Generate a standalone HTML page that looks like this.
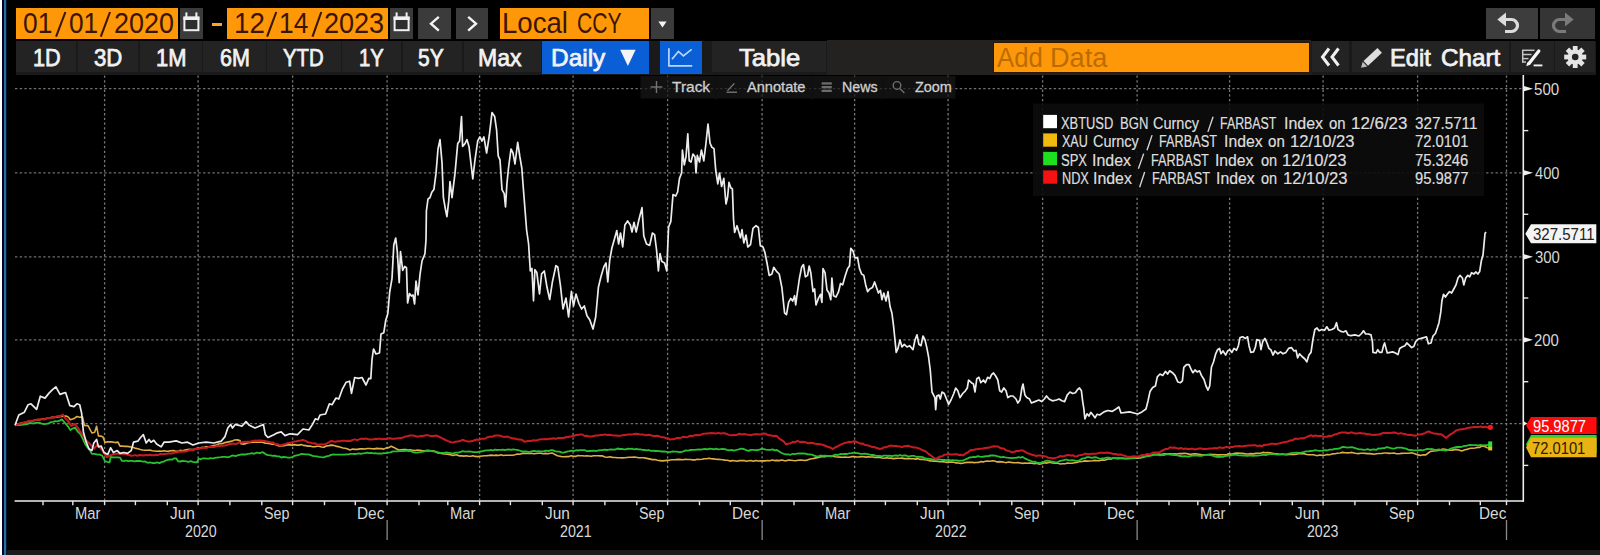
<!DOCTYPE html><html><head><meta charset="utf-8"><title>Chart</title><style>
*{margin:0;padding:0;box-sizing:border-box}
html,body{width:1600px;height:555px;background:#000;overflow:hidden}
body{position:relative;font-family:"Liberation Sans",sans-serif;color:#e6e6e6}
.a{position:absolute}
.box{position:absolute;top:8px;height:31px}
.or{background:#ff9808}
.gr{background:#3b3b3b}
.t{position:absolute;white-space:nowrap;line-height:1}
.r1{font-size:29.5px;color:#3a1500;top:8.1px}
.b2{position:absolute;top:40.9px;height:31.4px;background:#232323}
.r2{font-size:24px;color:#f2f2f2;top:45.9px;-webkit-text-stroke:0.75px #f2f2f2}
.mt{font-size:15px;color:#cfcfcf;top:78.9px;-webkit-text-stroke:0.3px #cfcfcf}
.lg{font-size:16px;color:#dedede;-webkit-text-stroke:0.2px #dedede}
.ax{font-size:16.3px;color:#d8d8d8}
</style></head><body>
<div class="a" style="left:0;top:0;width:1.9px;height:555px;background:#fdfdfd"></div>
<div class="a" style="left:1.9px;top:0;width:1.7px;height:555px;background:#01012c"></div>
<div class="a" style="left:3.5px;top:0;width:2.7px;height:555px;background:#2a6d9b"></div>
<div class="a" style="left:6.2px;top:0;width:1.1px;height:555px;background:#021a2c"></div>
<div class="a" style="left:7.4px;top:549.6px;width:1593px;height:6px;background:#1b1b1b"></div>
<div class="box or" style="left:15.5px;width:162.2px"></div>
<div class="box gr" style="left:180.1px;width:22.8px"></div>
<div class="a" style="left:212.2px;top:23.1px;width:9.7px;height:2.9px;background:#ffa21f"></div>
<div class="box or" style="left:226.7px;width:161.5px"></div>
<div class="box gr" style="left:390.3px;width:22.9px"></div>
<div class="box gr" style="left:418.2px;width:32.8px"></div>
<div class="box gr" style="left:456.2px;width:31.7px"></div>
<div class="box or" style="left:499.8px;width:149.4px"></div>
<div class="box gr" style="left:650.7px;width:23.4px"></div>
<div class="box" style="left:1486px;width:52.4px;background:#3d3d3d"></div>
<div class="box" style="left:1540.3px;width:55.1px;background:#353535"></div>
<div id="d1w0" class="t r1" style="left:23.39px;transform-origin:0 0;transform:scaleX(0.8931);">01</div><div id="d1w1" class="t r1" style="left:68.77px;transform-origin:0 0;transform:scaleX(0.8893);">01</div><div id="d1w2" class="t r1" style="left:114.14px;transform-origin:0 0;transform:scaleX(0.9124);">2020</div>
<div id="d2w0" class="t r1" style="left:234.17px;transform-origin:0 0;transform:scaleX(0.9378);">12</div><div id="d2w1" class="t r1" style="left:279.40px;transform-origin:0 0;transform:scaleX(0.8918);">14</div><div id="d2w2" class="t r1" style="left:324.37px;transform-origin:0 0;transform:scaleX(0.9166);">2023</div>
<div id="ccyw0" class="t r1" style="left:501.51px;transform-origin:0 0;transform:scaleX(0.9357);">Local</div><div id="ccyw1" class="t r1" style="left:577.38px;transform-origin:0 0;transform:scaleX(0.7169);">CCY</div>
<svg class="a" style="left:0;top:0" width="1600" height="80" viewBox="0 0 1600 80">
<g transform="translate(183.4,0)" fill="none" stroke="#f0f0f0"><rect x="1" y="17.6" width="14" height="12.6" stroke-width="2" fill="#2d2d2d"/><rect x="0" y="16.6" width="16" height="3.4" fill="#f0f0f0" stroke="none"/><line x1="3" y1="12.4" x2="3" y2="17" stroke-width="2"/><line x1="13" y1="12.4" x2="13" y2="17" stroke-width="2"/></g>
<g transform="translate(393.6,0)" fill="none" stroke="#f0f0f0"><rect x="1" y="17.6" width="14" height="12.6" stroke-width="2" fill="#2d2d2d"/><rect x="0" y="16.6" width="16" height="3.4" fill="#f0f0f0" stroke="none"/><line x1="3" y1="12.4" x2="3" y2="17" stroke-width="2"/><line x1="13" y1="12.4" x2="13" y2="17" stroke-width="2"/></g>
<line x1="56.1" y1="36.6" x2="65.39999999999999" y2="12" stroke="#3a1500" stroke-width="2.1"/>
<line x1="100.8" y1="36.6" x2="110.0" y2="12" stroke="#3a1500" stroke-width="2.1"/>
<line x1="267.09999999999997" y1="36.6" x2="276.3" y2="12" stroke="#3a1500" stroke-width="2.1"/>
<line x1="312.5" y1="36.6" x2="321.3" y2="12" stroke="#3a1500" stroke-width="2.1"/>
<polyline points="438.8,16.8 431,23.7 438.8,30.6" fill="none" stroke="#f4f4f4" stroke-width="2.4"/>
<polyline points="468.2,16.8 476,23.7 468.2,30.6" fill="none" stroke="#f4f4f4" stroke-width="2.4"/>
<polygon points="658.4,21.5 666.6,21.5 662.5,27.6" fill="#f4f4f4"/>
<g fill="none" stroke="#dcdcdc" stroke-width="3.2"><path d="M1504,19.5 H1511.5 a6,6 0 0 1 0,12 H1505"/></g><polygon points="1497.3,19.5 1506,12.6 1506,26.4" fill="#dcdcdc"/>
<g fill="none" stroke="#7a7a7a" stroke-width="3.2"><path d="M1567,19.5 H1559.5 a6,6 0 0 0 0,12 H1566"/></g><polygon points="1573.7,19.5 1565,12.6 1565,26.4" fill="#7a7a7a"/>
</svg>
<div class="a" style="left:15.5px;top:40.6px;width:1580px;height:34.2px;background:#1a1a1a"></div>
<div class="b2" style="left:16px;width:60.3px;"></div>
<div class="b2" style="left:77.6px;width:60.7px;"></div>
<div class="b2" style="left:139.6px;width:62.4px;"></div>
<div class="b2" style="left:203.3px;width:62.3px;"></div>
<div class="b2" style="left:267px;width:73.6px;"></div>
<div class="b2" style="left:342px;width:59.2px;"></div>
<div class="b2" style="left:402.5px;width:59.7px;"></div>
<div class="b2" style="left:463.5px;width:77.7px;"></div>
<div class="b2" style="left:541.9px;width:107.3px;background:#0a5fd6;top:40.6px;height:33.7px;"></div>
<div class="b2" style="left:659.8px;width:41.9px;background:#0a5fd6;top:40.6px;height:33.7px;"></div>
<div class="b2" style="left:711.8px;width:114.2px;"></div>
<div class="b2" style="left:827.2px;width:483.8px;background:#242221;top:40.4px;height:34.4px;"></div>
<div class="a" style="left:993.6px;top:42.7px;width:315.1px;height:29.5px;background:#ff9808;box-shadow:0 0 0 1px #2e1600"></div>
<div class="b2" style="left:1312px;width:36.6px;"></div>
<div class="b2" style="left:1352px;width:157.0px;"></div>
<div class="b2" style="left:1511px;width:42.6px;"></div>
<div class="b2" style="left:1555.3px;width:40.1px;"></div>
<div id="b1" class="t r2" style="left:32.52px;transform-origin:0 0;transform:scaleX(0.9035);">1D</div>
<div id="b2" class="t r2" style="left:94.02px;transform-origin:0 0;transform:scaleX(0.9238);">3D</div>
<div id="b3" class="t r2" style="left:156.26px;transform-origin:0 0;transform:scaleX(0.9140);">1M</div>
<div id="b4" class="t r2" style="left:219.67px;transform-origin:0 0;transform:scaleX(0.8965);">6M</div>
<div id="b5" class="t r2" style="left:283.46px;transform-origin:0 0;transform:scaleX(0.8465);">YTD</div>
<div id="b6" class="t r2" style="left:358.50px;transform-origin:0 0;transform:scaleX(0.8426);">1Y</div>
<div id="b7" class="t r2" style="left:418.21px;transform-origin:0 0;transform:scaleX(0.8749);">5Y</div>
<div id="b8" class="t r2" style="left:478.30px;transform-origin:0 0;transform:scaleX(0.9576);">Max</div>
<div id="b9" class="t r2" style="left:550.63px;transform-origin:0 0;transform:scaleX(1.0176);">Daily</div>
<div id="b10" class="t r2" style="left:738.77px;transform-origin:0 0;transform:scaleX(1.0663);">Table</div>
<div id="b11w0" class="t r2" style="left:1390.46px;transform-origin:0 0;transform:scaleX(0.9849);">Edit</div><div id="b11w1" class="t r2" style="left:1440.56px;transform-origin:0 0;transform:scaleX(1.0086);">Chart</div>
<div id="addw0" class="t r1" style="left:996.75px;transform-origin:0 0;transform:scaleX(0.9353);color:#bb6c00;top:44.2px;font-size:27.5px">Add</div><div id="addw1" class="t r1" style="left:1050.32px;transform-origin:0 0;transform:scaleX(0.9862);color:#bb6c00;top:44.2px;font-size:27.5px">Data</div>
<svg class="a" style="left:0;top:0" width="1600" height="80" viewBox="0 0 1600 80">
<polygon points="620.2,49.8 635.6,49.8 627.9,66" fill="#f4f4f4"/>
<g fill="none" stroke="#b9d6ff" stroke-width="1.7"><polyline points="668.9,48.2 668.9,65.9 692.2,65.9"/><polyline points="672,59.2 678.4,51.4 683.4,55.8 691.6,49.4"/></g>
<g fill="none" stroke="#f0f0f0" stroke-width="3"><polyline points="1329,48.5 1322.5,57 1329,65.5"/><polyline points="1338.5,48.5 1332,57 1338.5,65.5"/></g>
<g transform="translate(1372,57.5) rotate(-43)"><rect x="-8.5" y="-3.3" width="19" height="6.6" fill="#dedede"/><polygon points="-9.6,-3.3 -9.6,3.3 -15,0" fill="#bdbdbd"/></g>
<g fill="none" stroke="#c4c4c4" stroke-width="1.5"><line x1="1522" y1="50.3" x2="1534.5" y2="50.3"/><line x1="1522.7" y1="50" x2="1522.7" y2="62.5"/><line x1="1522" y1="54.5" x2="1531.5" y2="54.5"/><line x1="1522" y1="58.6" x2="1528.5" y2="58.6"/><line x1="1522" y1="62" x2="1526" y2="62"/></g><line x1="1533.6" y1="65.4" x2="1542.4" y2="65.4" stroke="#f0f0f0" stroke-width="1.9"/><line x1="1538.8" y1="51" x2="1529.4" y2="63" stroke="#f6f6f6" stroke-width="3.3" stroke-linecap="round"/><polygon points="1527.2,62.2 1530.6,64.6 1526.3,66.2" fill="#f6f6f6"/>
<g transform="translate(1575.2,57)" fill="#e4e4e4"><rect x="-2.4" y="-11" width="4.8" height="6" transform="rotate(0)"/><rect x="-2.4" y="-11" width="4.8" height="6" transform="rotate(45)"/><rect x="-2.4" y="-11" width="4.8" height="6" transform="rotate(90)"/><rect x="-2.4" y="-11" width="4.8" height="6" transform="rotate(135)"/><rect x="-2.4" y="-11" width="4.8" height="6" transform="rotate(180)"/><rect x="-2.4" y="-11" width="4.8" height="6" transform="rotate(225)"/><rect x="-2.4" y="-11" width="4.8" height="6" transform="rotate(270)"/><rect x="-2.4" y="-11" width="4.8" height="6" transform="rotate(315)"/><circle r="7.6"/><circle r="3.3" fill="#232323"/></g>
</svg>
<svg class="a" style="left:0;top:0" width="1600" height="555" viewBox="0 0 1600 555"><g stroke="#707070" stroke-width="1.2" stroke-dasharray="2.4 2.3" fill="none"><line x1="15" y1="88.7" x2="1523" y2="88.7"/><line x1="15" y1="172.8" x2="1523" y2="172.8"/><line x1="15" y1="256.8" x2="1523" y2="256.8"/><line x1="15" y1="339.8" x2="1523" y2="339.8"/><line x1="15" y1="423.6" x2="1523" y2="423.6"/></g><g stroke="#777777" stroke-width="1.3" stroke-dasharray="2.3 2.4" fill="none"><line x1="104.6" y1="75.5" x2="104.6" y2="500.5"/><line x1="198.1" y1="75.5" x2="198.1" y2="500.5"/><line x1="292.6" y1="75.5" x2="292.6" y2="500.5"/><line x1="387.1" y1="75.5" x2="387.1" y2="500.5"/><line x1="479.6" y1="75.5" x2="479.6" y2="500.5"/><line x1="573.1" y1="75.5" x2="573.1" y2="500.5"/><line x1="667.6" y1="75.5" x2="667.6" y2="500.5"/><line x1="762.1" y1="75.5" x2="762.1" y2="500.5"/><line x1="854.6" y1="75.5" x2="854.6" y2="500.5"/><line x1="948.1" y1="75.5" x2="948.1" y2="500.5"/><line x1="1042.6" y1="75.5" x2="1042.6" y2="500.5"/><line x1="1137.1" y1="75.5" x2="1137.1" y2="500.5"/><line x1="1229.6" y1="75.5" x2="1229.6" y2="500.5"/><line x1="1323.1" y1="75.5" x2="1323.1" y2="500.5"/><line x1="1417.6" y1="75.5" x2="1417.6" y2="500.5"/><line x1="1506.5" y1="75.5" x2="1506.5" y2="500.5"/></g><rect x="640.5" y="76" width="315" height="22.5" fill="#171717" opacity="0.72"/><line x1="715.6" y1="76" x2="715.6" y2="99.6" stroke="#101010" stroke-width="1.4"/><line x1="811.6" y1="76" x2="811.6" y2="99.6" stroke="#101010" stroke-width="1.4"/><line x1="882.6" y1="76" x2="882.6" y2="99.6" stroke="#101010" stroke-width="1.4"/><rect x="1033" y="103.5" width="451" height="92.5" fill="#0c0c0c" opacity="0.9"/><path d="M15.0,424.4 L17.2,423.7 L19.5,423.5 L21.8,422.9 L24.0,422.6 L26.2,422.2 L28.5,421.2 L30.8,420.7 L33.0,420.9 L35.2,420.0 L37.5,419.5 L39.9,419.8 L42.3,419.0 L44.7,419.0 L47.0,418.3 L49.4,418.1 L51.8,417.3 L54.2,417.4 L56.6,417.3 L59.0,416.6 L61.4,416.5 L63.8,416.1 L66.1,416.0 L68.4,417.1 L70.3,419.8 L74.0,418.6 L76.9,416.5 L79.7,417.2 L82.5,416.9 L84.4,425.5 L88.0,425.6 L91.9,433.0 L94.7,432.3 L96.6,426.2 L98.4,435.9 L100.7,436.1 L103.0,437.0 L105.0,442.5 L107.5,441.8 L110.0,441.9 L112.5,441.9 L115.2,442.6 L118.0,442.1 L120.0,446.1 L122.2,446.0 L124.5,446.4 L126.8,446.4 L129.0,446.6 L131.2,447.0 L133.5,447.5 L135.8,448.4 L138.0,448.7 L140.2,449.5 L142.5,450.0 L144.9,450.3 L147.3,450.2 L149.7,450.0 L152.2,450.8 L154.6,451.0 L157.0,451.2 L159.4,451.1 L161.7,451.2 L164.1,450.7 L166.4,451.3 L168.7,451.1 L171.0,450.8 L173.3,450.6 L175.7,451.3 L178.0,451.4 L180.4,450.3 L182.7,450.7 L185.1,450.1 L187.4,449.6 L189.8,449.4 L192.2,449.6 L194.5,449.4 L196.9,448.3 L199.2,448.4 L201.6,447.4 L203.9,447.5 L206.2,446.7 L208.6,446.7 L210.9,446.4 L213.3,445.5 L215.6,445.4 L217.9,444.3 L220.3,443.6 L222.7,443.6 L225.0,442.6 L227.3,442.1 L229.7,441.6 L232.1,441.1 L234.4,440.0 L237.2,439.9 L240.0,440.6 L241.0,443.8 L243.4,444.1 L245.8,443.6 L248.2,442.8 L250.6,442.5 L253.0,442.2 L255.4,442.3 L257.8,442.3 L260.1,442.3 L262.5,442.3 L264.8,443.1 L267.2,443.2 L269.5,443.6 L271.9,444.3 L274.2,444.3 L276.6,444.9 L278.9,446.0 L281.2,446.0 L284.2,445.7 L287.1,444.9 L290.0,444.9 L292.2,445.1 L294.5,444.6 L296.8,445.1 L299.0,445.1 L301.2,444.6 L303.5,445.4 L305.8,445.6 L308.0,446.1 L310.2,446.1 L312.5,446.7 L314.8,446.8 L317.0,446.2 L319.2,446.3 L321.5,447.0 L323.8,447.3 L326.2,446.0 L328.8,445.6 L331.2,445.1 L333.6,445.4 L335.9,446.1 L338.3,446.6 L340.6,447.2 L343.0,448.0 L345.3,448.3 L347.7,449.0 L350.0,449.9 L352.5,449.1 L355.0,449.4 L357.5,449.4 L360.0,448.9 L362.5,448.7 L365.0,449.0 L367.3,448.5 L369.7,448.5 L372.0,448.7 L374.4,448.9 L376.7,448.4 L379.1,448.6 L381.4,448.6 L383.8,449.1 L386.2,447.9 L388.8,447.6 L391.2,446.2 L393.8,447.4 L396.2,448.8 L398.8,450.0 L401.1,449.7 L403.4,449.6 L405.8,449.6 L408.1,450.0 L410.5,449.8 L412.8,450.4 L415.2,450.5 L417.5,450.0 L420.0,450.2 L422.5,450.8 L425.0,450.8 L427.5,451.0 L430.0,450.7 L432.5,450.7 L435.0,451.6 L437.5,452.9 L440.0,453.2 L442.5,453.6 L445.0,454.0 L447.5,454.3 L450.0,454.6 L452.5,455.4 L455.0,455.0 L457.2,454.9 L459.5,455.9 L461.8,455.9 L464.0,456.1 L466.2,455.7 L468.5,456.3 L470.8,456.3 L473.0,455.8 L475.2,456.4 L477.5,456.6 L479.8,456.3 L482.2,456.0 L484.5,455.7 L486.9,455.6 L489.2,455.4 L491.6,455.1 L493.9,455.5 L496.2,455.1 L498.6,455.5 L500.9,454.8 L503.3,455.5 L505.6,455.2 L508.0,455.3 L510.3,455.2 L512.7,455.2 L515.0,454.8 L517.4,454.0 L519.7,454.3 L522.0,453.4 L524.4,453.2 L526.7,453.5 L529.1,453.4 L531.4,453.3 L533.8,453.8 L536.1,453.5 L538.5,453.3 L540.8,453.2 L543.1,453.7 L545.5,453.4 L547.8,453.7 L550.2,453.3 L552.5,453.1 L555.0,454.5 L557.5,455.8 L560.0,456.3 L562.2,456.8 L564.4,456.8 L566.7,456.6 L568.9,456.6 L571.1,455.8 L573.3,456.2 L575.6,456.4 L577.8,455.6 L580.0,455.7 L582.2,455.7 L584.5,456.0 L586.8,455.9 L589.0,456.0 L591.2,456.3 L593.5,455.7 L595.8,455.7 L598.0,455.8 L600.2,455.9 L602.5,455.9 L605.0,457.0 L607.5,457.2 L610.0,456.8 L612.5,457.4 L615.0,457.5 L617.5,457.8 L619.8,457.8 L622.2,457.9 L624.5,457.8 L626.9,457.5 L629.2,457.2 L631.6,457.2 L633.9,457.0 L636.2,457.2 L638.6,457.7 L640.9,457.7 L643.3,457.7 L645.6,458.1 L648.0,458.6 L650.3,459.1 L652.7,459.6 L655.0,459.5 L657.5,460.3 L660.0,460.6 L662.5,460.9 L664.8,460.6 L667.0,460.4 L669.2,460.3 L671.5,459.8 L673.8,459.8 L676.1,459.6 L678.4,459.4 L680.8,459.6 L683.1,459.8 L685.5,459.2 L687.8,459.5 L690.2,459.5 L692.5,459.9 L694.8,459.9 L697.2,459.2 L699.5,459.5 L701.9,459.3 L704.2,458.7 L706.6,458.7 L708.9,458.3 L711.2,458.8 L713.5,458.9 L715.8,459.3 L718.0,459.4 L720.2,459.5 L722.5,459.8 L725.0,460.1 L727.5,460.2 L730.0,461.1 L732.3,460.6 L734.7,460.7 L737.0,461.2 L739.4,460.6 L741.7,460.6 L744.1,460.6 L746.4,461.3 L748.8,460.7 L751.1,460.5 L753.4,461.2 L755.8,460.4 L758.1,461.0 L760.5,460.8 L762.8,460.9 L765.2,460.9 L767.5,460.5 L769.8,460.7 L772.2,460.0 L774.5,460.6 L776.9,460.4 L779.2,460.6 L781.6,460.0 L783.9,460.6 L786.2,460.8 L788.6,460.0 L790.9,460.2 L793.3,460.5 L795.6,460.7 L798.0,460.2 L800.3,460.1 L802.7,460.2 L805.0,460.5 L807.2,460.1 L809.5,459.3 L811.8,458.8 L814.0,458.4 L816.2,457.9 L818.5,457.5 L820.8,456.8 L823.0,456.7 L825.2,456.7 L827.5,455.8 L830.0,456.3 L832.5,456.0 L835.0,456.7 L837.5,457.0 L840.0,457.1 L842.5,457.2 L844.8,457.1 L847.2,457.2 L849.5,457.3 L851.9,456.6 L854.2,456.5 L856.6,457.0 L858.9,457.0 L861.2,456.6 L863.6,456.7 L865.9,457.1 L868.3,456.7 L870.6,457.0 L873.0,457.0 L875.3,457.5 L877.7,457.4 L880.0,457.5 L882.2,458.0 L884.4,458.3 L886.7,457.8 L888.9,458.3 L891.1,458.1 L893.3,458.6 L895.6,458.4 L897.8,458.2 L900.0,458.2 L902.2,458.1 L904.4,458.6 L906.7,458.6 L908.9,458.4 L911.1,458.7 L913.3,458.7 L915.6,459.1 L917.8,458.6 L920.0,459.4 L922.2,459.3 L924.5,459.8 L926.8,460.0 L929.0,460.6 L931.2,461.0 L933.5,461.1 L935.8,461.1 L938.0,461.5 L940.2,461.8 L942.5,461.6 L944.8,462.0 L947.0,462.4 L949.2,462.1 L951.5,462.1 L953.8,462.3 L956.0,462.9 L958.2,463.0 L960.5,463.4 L962.8,463.2 L965.0,462.6 L967.2,462.4 L969.5,462.4 L971.8,462.2 L974.0,462.6 L976.3,462.5 L978.6,462.4 L980.9,461.6 L983.1,461.9 L985.4,461.2 L987.7,461.1 L990.0,461.2 L992.4,460.8 L994.7,461.0 L997.1,461.9 L999.4,461.6 L1001.8,461.9 L1004.1,462.3 L1006.5,462.6 L1008.8,462.0 L1011.1,462.4 L1013.4,462.6 L1015.8,462.7 L1018.1,462.6 L1020.4,463.0 L1022.7,463.4 L1025.0,463.0 L1027.3,463.3 L1029.6,463.0 L1032.0,463.3 L1034.3,463.7 L1036.6,463.3 L1038.9,464.1 L1041.6,463.8 L1044.3,462.7 L1047.0,463.1 L1049.7,462.3 L1052.4,463.0 L1055.1,463.3 L1057.8,463.3 L1060.5,464.0 L1062.8,463.7 L1065.2,463.7 L1067.5,463.0 L1069.8,463.2 L1072.1,463.2 L1074.5,462.8 L1076.8,462.4 L1079.5,461.6 L1082.2,461.5 L1084.9,460.9 L1087.4,461.1 L1089.9,461.0 L1092.5,460.8 L1095.0,460.4 L1097.5,460.7 L1100.0,460.6 L1102.2,459.9 L1104.5,460.2 L1106.8,459.6 L1109.0,458.8 L1111.2,459.1 L1113.5,458.1 L1115.8,458.2 L1118.0,458.6 L1120.2,458.5 L1122.5,458.4 L1124.8,458.5 L1127.0,458.4 L1129.2,458.1 L1131.5,457.9 L1133.8,457.7 L1136.0,458.2 L1138.2,458.1 L1140.5,457.8 L1142.8,457.5 L1145.0,456.6 L1147.2,456.0 L1149.5,455.6 L1151.8,455.5 L1154.0,454.2 L1156.3,454.5 L1158.6,454.1 L1160.9,454.5 L1163.1,454.0 L1165.4,453.9 L1167.7,453.8 L1170.0,453.8 L1172.4,454.0 L1174.7,453.7 L1177.1,454.1 L1179.4,453.5 L1181.8,453.6 L1184.1,453.4 L1186.5,453.5 L1188.9,454.1 L1191.3,454.2 L1193.7,453.8 L1196.1,453.9 L1198.4,454.2 L1200.8,454.6 L1203.2,454.7 L1205.6,454.7 L1208.0,454.7 L1210.3,454.3 L1212.6,454.6 L1214.9,454.5 L1217.1,454.9 L1219.4,454.9 L1221.7,454.7 L1224.0,454.8 L1226.2,454.9 L1228.4,453.8 L1230.6,454.1 L1232.8,453.8 L1235.0,453.4 L1237.3,453.0 L1239.6,453.3 L1241.9,453.4 L1244.1,453.6 L1246.4,454.0 L1248.7,453.9 L1251.0,453.6 L1253.4,453.9 L1255.7,453.4 L1258.1,453.3 L1260.5,453.2 L1262.9,452.4 L1265.2,452.8 L1267.6,452.5 L1270.1,452.8 L1272.6,453.3 L1275.0,453.6 L1277.5,453.8 L1280.0,454.5 L1282.3,454.1 L1284.7,454.5 L1287.1,454.6 L1289.4,454.4 L1291.8,454.4 L1294.1,454.5 L1296.5,454.3 L1298.8,453.4 L1301.2,453.8 L1303.5,453.4 L1306.6,454.5 L1308.8,454.8 L1311.0,454.8 L1313.2,454.7 L1315.4,455.2 L1317.6,455.6 L1319.9,455.0 L1322.3,455.4 L1324.7,455.2 L1327.0,454.6 L1329.6,454.7 L1332.3,453.9 L1334.9,453.7 L1337.5,453.2 L1340.1,453.0 L1342.7,452.4 L1345.0,452.8 L1347.3,452.9 L1349.7,452.8 L1352.0,452.4 L1355.2,453.3 L1358.4,453.6 L1360.6,453.3 L1362.9,453.3 L1365.1,453.4 L1367.3,453.6 L1369.5,453.6 L1371.8,453.9 L1374.0,454.2 L1376.5,453.8 L1379.0,453.5 L1381.6,453.5 L1384.1,453.0 L1386.6,453.0 L1389.1,453.4 L1391.6,453.2 L1394.0,453.1 L1396.5,453.8 L1399.0,453.8 L1401.5,453.4 L1404.1,453.2 L1406.6,453.3 L1409.2,453.2 L1411.7,452.8 L1414.8,453.7 L1417.9,454.9 L1420.5,455.4 L1423.2,454.7 L1425.8,454.9 L1428.2,453.0 L1430.5,451.4 L1433.6,451.0 L1436.7,450.8 L1439.8,449.9 L1443.0,449.0 L1446.2,449.6 L1449.3,450.2 L1452.4,450.1 L1455.5,449.4 L1458.7,449.9 L1461.8,450.9 L1464.9,449.8 L1468.0,449.1 L1470.4,448.2 L1472.8,448.3 L1475.1,448.0 L1477.5,447.4 L1479.8,447.4 L1482.0,445.9 L1484.7,446.6 L1487.3,447.8 L1490.0,448.3" fill="none" stroke="#dcae44" stroke-width="1.6" stroke-linejoin="round"/><path d="M15.0,425.3 L17.0,425.2 L19.1,425.0 L21.1,424.8 L23.2,424.7 L25.2,424.3 L27.3,424.2 L29.3,423.0 L31.4,423.2 L33.4,423.5 L35.5,422.9 L37.5,422.9 L39.7,422.7 L41.8,423.7 L44.0,424.1 L46.2,423.9 L48.5,423.3 L50.7,422.2 L53.0,421.8 L55.2,421.2 L57.4,421.3 L59.7,420.6 L61.9,419.4 L65.6,423.7 L67.9,426.3 L70.3,430.1 L72.7,428.6 L75.0,427.5 L77.8,431.7 L80.6,434.4 L82.9,439.1 L85.3,444.5 L87.5,447.5 L89.7,450.1 L91.9,453.9 L94.7,453.9 L97.5,454.6 L99.8,454.6 L102.2,455.7 L105.0,461.2 L107.3,461.9 L109.7,462.3 L110.6,457.0 L112.9,457.3 L115.3,457.3 L117.7,457.4 L120.0,457.6 L121.9,460.8 L124.0,461.1 L126.1,460.5 L128.1,461.2 L130.2,460.8 L132.3,460.8 L134.4,461.3 L136.4,461.0 L138.5,460.8 L140.6,461.0 L142.9,461.7 L145.3,461.5 L147.7,462.8 L150.0,462.3 L152.3,463.0 L154.7,463.1 L157.1,462.3 L159.4,463.1 L161.5,462.1 L163.6,461.7 L165.7,460.5 L167.8,459.9 L169.9,459.5 L172.0,459.7 L174.1,458.3 L176.2,458.3 L178.0,461.4 L180.1,461.5 L182.2,461.0 L184.3,461.2 L186.4,461.4 L188.5,461.8 L190.6,461.2 L192.7,461.9 L194.8,462.1 L196.9,462.3 L198.8,458.5 L200.8,459.3 L202.8,458.3 L204.8,458.4 L206.8,458.6 L208.8,458.7 L210.9,458.0 L212.9,458.5 L214.9,457.9 L216.9,457.6 L218.9,457.4 L221.0,457.2 L223.0,456.9 L225.0,456.8 L227.1,457.1 L229.2,457.1 L231.2,455.9 L233.3,455.5 L235.4,456.1 L237.5,455.4 L239.6,454.9 L241.7,454.4 L243.8,454.5 L245.8,454.5 L247.9,453.9 L250.0,453.7 L252.1,453.1 L254.2,453.8 L256.2,452.7 L258.3,452.9 L260.4,453.0 L262.5,452.1 L266.2,454.6 L268.4,455.2 L270.5,455.3 L272.7,455.9 L274.8,455.6 L277.0,456.3 L279.1,456.4 L281.2,457.5 L283.4,457.0 L285.6,457.2 L287.8,457.7 L290.0,457.6 L292.2,457.0 L294.5,455.9 L296.8,455.3 L299.0,454.9 L301.2,454.0 L303.5,454.1 L305.8,454.4 L308.0,454.4 L310.2,454.9 L312.5,455.8 L314.8,456.2 L317.0,456.4 L319.2,456.8 L321.5,457.1 L323.8,457.3 L326.2,456.4 L328.8,455.8 L331.2,454.8 L333.4,454.3 L335.5,454.7 L337.7,454.7 L339.8,454.6 L342.0,454.6 L344.1,454.7 L346.2,454.3 L348.3,454.4 L350.4,453.9 L352.5,453.9 L354.6,454.0 L356.7,453.8 L358.8,453.3 L360.8,453.8 L362.9,453.3 L365.0,453.1 L367.1,452.6 L369.2,453.1 L371.2,452.9 L373.3,453.3 L375.4,453.2 L377.5,453.6 L379.6,453.5 L381.7,453.7 L383.8,453.2 L386.0,453.1 L388.2,452.7 L390.5,452.3 L392.8,451.3 L395.0,451.3 L397.2,451.3 L399.5,451.0 L401.8,451.2 L404.0,451.1 L406.2,450.6 L408.5,451.0 L410.8,451.0 L413.0,452.1 L415.2,452.6 L417.5,452.5 L419.8,452.2 L422.0,451.8 L424.2,451.4 L426.5,450.4 L428.8,450.5 L431.0,450.8 L433.2,451.3 L435.5,451.5 L437.8,452.2 L440.0,452.8 L442.2,452.8 L444.3,453.0 L446.5,452.5 L448.7,452.8 L450.8,453.2 L453.0,453.6 L455.4,452.7 L457.8,452.7 L460.1,452.2 L462.5,451.1 L464.6,451.7 L466.8,451.6 L468.9,451.5 L471.1,451.7 L473.2,452.1 L475.4,452.1 L477.5,452.2 L479.9,451.5 L482.2,451.3 L484.5,450.7 L486.9,450.4 L488.9,450.3 L490.9,449.9 L492.9,450.5 L494.9,449.6 L496.9,450.0 L498.9,449.8 L500.9,449.9 L503.0,449.6 L505.0,450.2 L507.0,449.7 L509.0,449.4 L511.0,449.9 L513.0,449.3 L515.0,449.7 L517.2,449.9 L519.5,450.5 L521.8,451.3 L524.0,451.5 L526.2,451.5 L528.3,451.8 L530.3,451.6 L532.3,451.2 L534.3,450.9 L536.3,451.3 L538.4,451.2 L540.4,451.5 L542.4,451.5 L544.4,451.0 L546.4,450.7 L548.5,451.1 L550.5,450.2 L552.5,450.2 L554.9,451.1 L557.2,451.7 L559.5,451.7 L561.9,452.6 L563.9,452.6 L565.9,451.8 L567.9,451.5 L569.9,451.0 L572.0,450.7 L574.0,451.1 L576.0,450.2 L578.0,450.5 L580.0,450.1 L582.4,450.1 L584.7,450.1 L587.0,451.2 L589.4,451.0 L591.6,450.8 L593.8,450.6 L596.0,451.1 L598.1,450.5 L600.3,450.2 L602.5,450.2 L604.6,449.7 L606.8,450.0 L608.9,449.7 L611.1,449.3 L613.2,449.6 L615.4,449.5 L617.5,448.5 L619.6,449.0 L621.7,448.8 L623.8,449.4 L625.8,449.3 L627.9,448.7 L630.0,448.8 L632.1,448.7 L634.2,449.5 L636.2,448.8 L638.3,449.3 L640.4,449.4 L642.5,449.8 L644.6,450.0 L646.7,450.4 L648.8,450.0 L650.8,450.8 L652.9,450.6 L655.0,451.0 L657.1,451.0 L659.3,451.1 L661.4,451.5 L663.6,451.5 L665.7,451.6 L667.9,452.1 L670.0,452.1 L672.2,451.5 L674.5,451.6 L676.8,451.7 L679.0,452.1 L681.2,452.0 L683.5,451.3 L685.8,450.4 L688.0,450.7 L690.2,450.0 L692.5,449.8 L694.6,449.8 L696.8,449.6 L698.9,449.4 L701.1,449.7 L703.2,449.1 L705.4,449.0 L707.5,449.4 L709.6,448.7 L711.8,448.8 L713.9,449.3 L716.1,448.6 L718.2,449.3 L720.4,449.2 L722.5,448.9 L724.8,449.1 L727.0,449.9 L729.2,450.4 L731.5,449.9 L733.8,450.6 L736.2,450.0 L738.8,449.4 L741.2,448.6 L743.8,449.0 L746.2,450.1 L748.8,450.9 L750.9,449.9 L753.0,449.9 L755.2,450.2 L757.3,450.0 L759.5,449.6 L761.6,448.8 L763.8,449.2 L765.9,449.7 L768.1,449.9 L770.3,449.8 L772.5,449.4 L774.7,450.4 L776.9,450.0 L779.2,451.5 L781.6,453.0 L783.9,453.8 L786.2,454.4 L788.4,454.3 L790.5,454.8 L792.7,453.8 L794.8,454.1 L797.0,453.7 L799.1,453.3 L801.2,453.5 L803.4,453.3 L805.5,453.7 L807.7,454.4 L809.8,454.4 L812.0,454.7 L814.1,455.6 L816.2,456.1 L818.4,456.3 L820.5,455.5 L822.7,455.8 L824.8,455.7 L827.0,456.0 L829.1,455.9 L831.2,456.3 L833.5,455.4 L835.8,454.7 L838.0,455.0 L840.2,454.0 L842.5,454.1 L844.8,453.8 L847.0,454.0 L849.2,453.4 L851.5,453.2 L853.8,452.7 L855.9,453.2 L858.0,453.1 L860.2,453.8 L862.3,453.8 L864.5,453.6 L866.6,453.9 L868.8,454.3 L871.0,455.0 L873.2,454.8 L875.5,455.7 L877.8,456.0 L880.0,455.8 L882.0,456.3 L884.0,455.7 L886.0,455.6 L888.0,456.0 L890.0,455.6 L892.0,456.2 L894.0,455.7 L896.0,455.5 L898.0,455.9 L900.0,455.0 L902.0,455.8 L904.0,455.3 L906.0,455.5 L908.0,456.4 L910.0,456.2 L912.0,455.8 L914.0,455.8 L916.0,456.8 L918.0,456.6 L920.0,456.8 L922.7,457.1 L925.4,458.5 L927.4,458.6 L929.5,458.8 L931.5,459.2 L933.5,459.8 L935.7,459.5 L937.8,459.6 L940.0,459.3 L942.1,460.0 L944.3,459.8 L946.4,460.1 L948.6,459.9 L950.7,460.4 L952.9,460.2 L955.0,460.4 L957.0,460.5 L959.0,460.9 L961.0,460.7 L963.0,460.6 L965.1,459.5 L967.2,458.7 L969.3,457.5 L971.4,457.4 L973.5,456.9 L975.6,457.1 L977.8,456.2 L979.9,456.6 L982.0,456.9 L984.2,456.5 L986.4,456.1 L988.6,456.0 L990.8,455.5 L993.0,455.4 L995.0,455.7 L997.0,456.2 L999.0,456.6 L1001.0,457.4 L1003.2,456.9 L1005.4,457.3 L1007.5,457.6 L1009.7,457.8 L1011.9,458.2 L1014.1,457.9 L1016.2,457.8 L1018.4,457.1 L1020.5,457.7 L1022.7,456.9 L1024.7,458.4 L1026.8,459.2 L1028.8,460.2 L1030.8,461.0 L1032.8,461.9 L1034.8,461.6 L1036.9,462.7 L1038.9,462.8 L1040.9,462.7 L1043.0,462.2 L1045.0,461.2 L1047.0,460.7 L1049.0,460.9 L1051.0,461.4 L1053.0,461.6 L1055.0,462.3 L1057.2,462.3 L1059.4,461.2 L1061.6,460.6 L1063.8,460.2 L1066.0,459.5 L1068.2,460.2 L1070.3,460.4 L1072.5,460.1 L1074.6,460.5 L1076.8,461.2 L1078.8,460.6 L1080.8,459.4 L1082.9,458.4 L1084.9,458.1 L1087.1,457.1 L1089.2,457.2 L1091.4,457.9 L1093.5,457.5 L1095.7,457.1 L1097.8,458.0 L1100.0,458.9 L1102.2,458.3 L1104.5,458.1 L1106.8,457.7 L1109.0,457.6 L1111.2,458.3 L1113.5,457.8 L1115.8,458.4 L1118.0,457.8 L1120.2,458.1 L1122.5,458.2 L1124.8,458.7 L1127.0,458.6 L1129.2,458.5 L1131.5,458.3 L1133.8,458.0 L1136.0,457.4 L1138.2,457.1 L1140.5,457.8 L1142.8,456.6 L1145.0,456.5 L1147.2,456.1 L1149.5,455.8 L1151.8,455.0 L1154.0,454.8 L1156.0,454.6 L1158.0,454.9 L1160.0,455.3 L1162.0,454.9 L1164.0,455.1 L1166.0,454.4 L1168.0,454.2 L1170.0,454.6 L1172.1,454.8 L1174.1,455.1 L1176.2,455.2 L1178.2,455.7 L1180.3,456.0 L1182.4,456.4 L1184.4,456.1 L1186.5,456.4 L1188.7,456.7 L1190.8,455.9 L1193.0,455.7 L1195.1,455.7 L1197.2,455.3 L1199.4,455.9 L1201.5,455.8 L1203.7,455.1 L1205.8,454.8 L1208.0,454.6 L1210.2,455.2 L1212.4,455.5 L1214.6,456.3 L1216.8,456.9 L1219.0,457.0 L1221.0,456.6 L1223.0,456.9 L1225.0,456.0 L1227.0,455.8 L1229.0,455.6 L1231.0,455.4 L1233.0,454.9 L1235.0,454.9 L1237.0,454.9 L1239.0,455.4 L1241.0,455.3 L1243.0,455.7 L1245.0,455.6 L1247.0,455.8 L1249.0,455.7 L1251.0,455.6 L1253.1,455.9 L1255.2,455.6 L1257.2,455.7 L1259.3,455.4 L1261.4,455.2 L1263.4,454.6 L1265.5,455.0 L1267.6,454.5 L1269.7,454.2 L1271.7,454.1 L1273.8,454.2 L1275.9,454.3 L1277.9,454.7 L1280.0,454.3 L1282.3,453.9 L1284.7,454.5 L1287.1,454.2 L1289.4,453.5 L1291.8,453.2 L1294.1,452.9 L1296.5,452.7 L1298.8,452.9 L1301.1,452.7 L1303.4,452.1 L1305.7,451.4 L1308.0,451.3 L1310.4,451.0 L1312.8,450.8 L1315.2,450.2 L1317.6,450.6 L1319.9,450.8 L1322.3,450.7 L1324.7,450.1 L1327.0,450.5 L1329.6,449.6 L1332.3,449.6 L1334.9,448.8 L1337.5,448.8 L1340.1,448.1 L1342.7,446.9 L1345.0,447.1 L1347.3,447.7 L1349.7,447.3 L1352.0,447.2 L1354.4,447.8 L1356.8,448.6 L1359.1,449.3 L1361.5,449.4 L1363.6,449.9 L1365.7,449.6 L1367.8,449.2 L1369.8,450.0 L1371.9,449.7 L1374.0,449.4 L1376.1,449.9 L1378.2,448.5 L1380.3,448.6 L1382.4,448.1 L1384.5,448.1 L1386.6,447.2 L1388.7,447.5 L1390.8,448.1 L1392.9,448.6 L1394.9,448.4 L1397.0,447.7 L1399.0,447.6 L1401.4,447.6 L1403.8,448.2 L1406.1,448.6 L1408.5,449.9 L1410.8,450.0 L1413.2,450.3 L1415.6,450.3 L1417.9,450.4 L1420.2,449.9 L1422.6,450.3 L1425.0,449.7 L1427.3,448.9 L1429.7,449.1 L1432.0,449.0 L1434.3,449.6 L1436.7,449.8 L1439.0,449.4 L1441.3,450.2 L1443.7,450.0 L1446.0,450.7 L1448.1,450.0 L1450.3,448.8 L1452.4,448.1 L1454.8,447.4 L1457.1,446.8 L1459.5,447.0 L1461.8,446.8 L1463.9,446.0 L1465.9,445.8 L1468.0,445.3 L1470.1,444.9 L1472.2,445.1 L1474.3,445.1 L1476.4,445.1 L1478.5,445.3 L1480.6,444.9 L1482.9,445.4 L1485.3,445.2 L1487.7,445.2 L1490.0,444.9" fill="none" stroke="#26c030" stroke-width="1.8" stroke-linejoin="round"/><path d="M15.0,425.3 L17.2,424.5 L19.3,423.7 L21.5,423.6 L23.7,422.4 L25.8,422.3 L28.0,421.5 L30.1,420.8 L32.2,421.0 L34.3,420.1 L36.4,420.3 L38.5,419.5 L40.6,419.2 L42.7,419.3 L44.8,419.4 L46.9,418.3 L49.2,417.9 L51.4,417.8 L53.7,417.6 L56.0,416.7 L58.3,416.0 L60.5,416.1 L62.8,414.5 L65.2,418.2 L67.5,420.4 L71.2,425.9 L75.0,424.0 L77.8,427.9 L80.6,432.2 L82.9,435.3 L85.3,439.5 L87.7,441.9 L90.0,443.9 L93.8,448.8 L97.5,444.5 L99.8,447.3 L102.2,450.3 L104.6,454.1 L106.9,457.1 L109.7,455.6 L112.5,454.5 L115.0,454.0 L117.5,453.5 L120.0,453.7 L122.2,454.0 L124.5,453.9 L126.8,454.6 L129.0,454.9 L131.2,455.7 L133.3,455.6 L135.4,455.1 L137.5,455.8 L139.6,454.9 L141.7,455.2 L143.8,455.6 L145.8,454.9 L147.9,455.3 L150.0,454.8 L152.1,455.3 L154.2,455.2 L156.2,454.7 L158.3,454.9 L160.4,454.0 L162.5,454.2 L164.6,453.9 L166.7,453.7 L168.8,453.4 L170.8,453.5 L172.9,453.3 L175.0,452.4 L177.1,452.3 L179.2,451.4 L181.2,451.8 L183.3,451.4 L185.4,451.5 L187.5,451.0 L189.6,450.1 L191.7,449.9 L193.8,449.9 L195.8,448.8 L197.9,449.0 L200.0,448.4 L202.1,448.0 L204.2,447.6 L206.2,448.1 L208.3,447.1 L210.4,446.9 L212.5,446.7 L214.6,447.0 L216.7,445.8 L218.8,445.9 L220.8,445.7 L222.9,445.7 L225.0,445.4 L227.1,445.1 L229.2,444.1 L231.2,444.0 L233.3,443.6 L235.4,443.9 L237.5,443.6 L239.6,442.4 L241.7,442.2 L243.8,441.9 L245.8,441.7 L247.9,441.8 L250.0,441.7 L252.1,441.1 L254.2,440.6 L256.2,440.8 L258.3,440.6 L260.4,440.6 L262.5,440.8 L264.6,441.0 L266.7,441.4 L268.8,442.0 L270.8,442.6 L272.9,442.4 L275.0,443.9 L277.1,444.3 L279.2,444.9 L281.2,445.3 L283.4,444.4 L285.6,443.9 L287.8,443.1 L290.0,443.1 L292.2,442.1 L294.3,441.6 L296.5,441.3 L298.7,440.8 L300.8,440.6 L303.0,439.8 L305.9,441.1 L308.8,442.6 L310.9,442.8 L313.0,443.4 L315.2,443.3 L317.3,444.6 L319.5,444.6 L321.6,444.3 L323.8,444.7 L326.2,443.6 L328.8,442.4 L331.2,440.8 L333.4,441.6 L335.5,441.8 L337.7,441.2 L339.8,441.2 L342.0,440.8 L344.1,440.8 L346.2,441.1 L348.4,440.7 L350.5,441.0 L352.7,439.9 L354.8,439.4 L357.0,440.1 L359.1,439.4 L361.2,438.6 L363.3,439.0 L365.3,438.5 L367.4,439.0 L369.4,439.5 L371.5,439.4 L373.5,439.2 L375.6,438.7 L377.6,438.9 L379.7,438.6 L381.7,439.3 L383.8,439.0 L385.8,439.1 L387.9,438.5 L390.0,438.2 L392.1,438.7 L394.2,438.7 L396.2,438.4 L398.3,438.2 L400.4,438.0 L402.5,437.8 L405.0,436.6 L407.5,436.3 L410.0,435.4 L412.5,435.5 L415.0,436.0 L417.5,436.8 L420.0,436.1 L422.5,435.9 L425.0,435.5 L427.2,435.1 L429.5,435.7 L431.8,435.9 L434.0,436.0 L436.2,435.5 L438.6,436.5 L440.9,437.6 L443.3,438.8 L445.6,440.0 L448.1,441.1 L450.5,442.0 L453.0,442.6 L455.4,441.7 L457.8,441.4 L460.1,441.1 L462.5,439.8 L465.0,440.8 L467.5,441.4 L470.0,441.6 L472.2,441.1 L474.5,440.3 L476.8,439.5 L479.0,439.8 L481.2,438.8 L483.4,438.8 L485.6,438.4 L487.8,437.2 L490.0,436.6 L492.2,436.7 L494.4,435.8 L496.5,435.4 L498.7,435.6 L500.8,435.8 L503.0,436.8 L505.1,436.9 L507.3,436.4 L509.4,437.4 L511.5,438.1 L513.7,438.4 L515.8,438.7 L518.0,439.5 L520.1,439.6 L522.3,440.1 L524.4,441.8 L526.5,441.2 L528.7,440.9 L530.8,441.1 L533.0,440.3 L535.1,440.6 L537.3,440.3 L539.4,439.4 L541.4,439.3 L543.5,439.2 L545.5,439.0 L547.6,439.2 L549.6,438.6 L551.7,438.7 L553.7,438.2 L555.8,438.9 L557.8,438.1 L559.9,438.0 L561.9,438.0 L563.9,438.0 L565.9,437.1 L567.9,437.3 L569.9,436.5 L572.0,436.2 L574.0,435.8 L576.0,434.9 L578.0,435.0 L580.0,434.4 L582.4,434.6 L584.7,436.0 L587.0,435.8 L589.4,436.6 L591.6,436.5 L593.8,436.0 L596.0,435.5 L598.1,435.4 L600.3,435.1 L602.5,435.0 L604.6,434.4 L606.8,435.0 L608.9,434.8 L611.1,435.0 L613.2,435.6 L615.4,435.5 L617.5,435.7 L619.6,435.7 L621.7,435.6 L623.8,434.9 L625.8,434.9 L627.9,434.6 L630.0,434.4 L632.1,434.4 L634.2,433.9 L636.2,433.8 L638.3,433.9 L640.4,434.6 L642.5,434.6 L644.6,435.0 L646.7,435.3 L648.8,434.7 L650.8,435.3 L652.9,435.9 L655.0,436.0 L657.1,435.7 L659.3,436.3 L661.4,437.2 L663.6,437.3 L665.7,438.0 L667.9,438.4 L670.0,439.6 L672.2,439.3 L674.5,439.1 L676.8,437.9 L679.0,438.1 L681.2,437.7 L683.5,436.7 L685.8,437.2 L688.0,436.9 L690.2,435.7 L692.5,436.1 L694.6,435.2 L696.8,435.0 L698.9,435.2 L701.1,434.7 L703.2,433.7 L705.4,433.6 L707.5,433.4 L709.6,433.2 L711.8,433.1 L713.9,433.2 L716.1,433.6 L718.2,432.9 L720.4,433.5 L722.5,433.3 L724.8,433.3 L727.0,434.1 L729.2,434.9 L731.5,435.2 L733.8,435.1 L736.6,435.0 L739.4,433.7 L741.7,434.4 L744.1,433.9 L746.4,434.5 L748.8,434.7 L750.9,435.3 L753.0,434.6 L755.2,434.2 L757.3,434.3 L759.5,434.6 L761.6,434.3 L763.8,433.5 L765.9,433.8 L768.1,435.2 L770.3,435.3 L772.5,435.9 L774.7,435.7 L776.9,436.1 L779.2,438.7 L781.6,440.2 L783.9,441.7 L786.2,444.5 L788.5,443.6 L790.8,443.2 L793.0,441.9 L795.2,442.2 L797.5,440.8 L799.7,441.9 L801.9,441.8 L804.0,441.9 L806.2,442.5 L808.4,443.2 L810.6,442.7 L812.9,443.0 L815.1,443.8 L817.4,443.9 L819.6,444.2 L821.9,444.6 L824.1,445.3 L826.3,446.2 L828.6,447.0 L830.8,447.8 L833.0,449.0 L835.4,447.3 L837.8,446.4 L840.1,444.8 L842.5,443.8 L844.8,442.9 L847.0,442.6 L849.2,441.8 L851.5,442.1 L853.8,441.3 L856.0,441.6 L858.2,442.6 L860.5,443.7 L862.8,443.5 L865.0,445.0 L867.2,445.2 L869.5,445.9 L871.8,446.9 L874.0,447.0 L876.2,447.8 L880.0,449.0 L882.0,448.6 L884.0,447.3 L886.0,447.2 L888.0,446.4 L890.0,445.6 L892.0,445.7 L894.0,445.9 L896.0,445.9 L898.0,446.3 L900.0,446.5 L902.0,447.1 L904.0,446.3 L906.0,446.0 L908.0,445.7 L910.0,446.4 L912.0,447.0 L914.0,447.4 L916.0,447.6 L918.0,448.1 L920.0,448.8 L922.7,450.3 L925.4,451.2 L928.1,453.6 L930.8,455.4 L933.4,457.6 L936.0,458.9 L938.1,457.6 L940.1,456.4 L942.2,456.3 L944.3,454.7 L946.4,454.6 L948.6,454.1 L950.7,454.4 L952.9,454.4 L955.0,454.3 L957.0,454.3 L959.0,455.0 L961.0,454.8 L963.0,455.4 L965.3,453.7 L967.7,452.5 L970.0,450.5 L972.0,450.0 L974.0,449.8 L976.0,449.2 L978.0,449.1 L980.4,448.7 L982.8,448.6 L985.2,448.1 L987.6,447.8 L989.6,447.6 L991.7,446.7 L993.7,446.2 L995.7,446.5 L997.7,446.4 L999.8,447.7 L1001.8,448.4 L1003.8,448.5 L1005.8,450.1 L1007.8,450.9 L1009.9,451.4 L1011.9,452.3 L1014.1,452.0 L1016.4,450.9 L1018.6,451.0 L1020.7,450.5 L1022.7,450.4 L1025.3,451.8 L1028.0,453.4 L1030.0,453.8 L1032.0,454.8 L1034.0,455.2 L1036.0,455.9 L1038.1,455.6 L1040.2,455.6 L1042.2,455.9 L1044.3,456.3 L1046.3,456.5 L1048.3,457.8 L1050.4,458.0 L1052.4,458.5 L1054.4,458.1 L1056.5,457.6 L1058.5,457.0 L1060.5,456.0 L1062.5,456.4 L1064.5,456.0 L1066.6,455.3 L1068.6,454.9 L1070.6,455.5 L1072.7,455.2 L1074.8,456.4 L1076.8,456.2 L1078.8,455.4 L1080.8,454.9 L1082.9,454.7 L1084.9,453.5 L1087.1,454.1 L1089.2,454.3 L1091.4,453.8 L1093.5,453.7 L1095.7,453.8 L1097.8,453.3 L1100.0,452.7 L1102.2,452.8 L1104.5,453.0 L1106.8,452.6 L1109.0,452.9 L1111.2,453.3 L1113.5,454.1 L1115.8,454.0 L1118.0,454.8 L1120.2,454.6 L1122.5,455.1 L1124.8,455.8 L1127.0,456.7 L1129.2,456.7 L1131.3,456.7 L1133.5,456.3 L1135.6,456.5 L1137.8,456.5 L1140.0,455.9 L1142.1,455.0 L1144.3,455.3 L1146.4,454.0 L1148.6,454.3 L1150.8,453.9 L1153.0,452.5 L1155.1,452.6 L1157.3,452.6 L1159.5,452.4 L1161.6,451.0 L1163.7,449.9 L1165.8,449.0 L1167.9,449.0 L1170.0,447.3 L1172.2,447.8 L1174.4,447.5 L1176.6,448.1 L1178.8,448.7 L1181.0,448.0 L1183.3,448.9 L1185.5,448.6 L1187.8,449.1 L1190.1,449.0 L1192.3,448.6 L1194.6,449.4 L1196.8,449.0 L1199.1,448.5 L1201.3,448.5 L1203.5,449.0 L1205.8,448.9 L1208.0,448.8 L1210.3,448.4 L1212.5,448.4 L1214.8,448.1 L1217.1,448.4 L1219.3,447.3 L1221.6,447.9 L1223.8,447.8 L1226.1,446.8 L1228.3,447.5 L1230.5,447.1 L1232.8,447.1 L1235.0,446.3 L1237.3,446.2 L1239.5,446.1 L1241.8,446.6 L1244.1,446.1 L1246.3,445.7 L1248.6,445.6 L1250.8,445.5 L1253.1,445.2 L1255.3,445.3 L1257.5,446.1 L1259.8,445.5 L1262.0,446.2 L1264.2,445.0 L1266.4,444.7 L1268.6,444.6 L1270.8,443.8 L1273.0,443.7 L1275.3,444.0 L1277.7,443.7 L1280.0,443.3 L1282.6,442.5 L1285.2,442.1 L1287.8,441.5 L1290.4,440.4 L1293.1,439.9 L1295.7,438.5 L1298.3,438.9 L1300.9,438.3 L1303.5,438.3 L1306.0,437.4 L1308.5,436.2 L1311.0,435.2 L1313.2,436.3 L1315.3,435.5 L1317.5,436.0 L1319.7,436.0 L1321.8,436.1 L1324.0,436.7 L1326.6,436.7 L1329.1,435.7 L1331.7,435.9 L1334.3,434.6 L1337.0,434.0 L1339.6,432.9 L1341.7,432.6 L1343.7,432.5 L1345.8,432.5 L1347.9,433.2 L1349.9,432.7 L1352.0,432.3 L1354.1,433.3 L1356.2,433.6 L1358.3,433.2 L1360.4,433.1 L1362.5,433.4 L1364.6,433.5 L1366.9,434.2 L1369.3,434.2 L1371.7,434.7 L1374.0,435.0 L1376.3,434.8 L1378.7,434.6 L1381.1,433.8 L1383.4,432.9 L1385.5,432.9 L1387.6,433.0 L1389.7,432.9 L1391.8,432.8 L1393.9,432.5 L1396.0,432.8 L1398.3,433.8 L1400.7,433.1 L1403.1,433.8 L1405.4,434.1 L1407.8,434.9 L1410.1,434.7 L1412.5,435.2 L1414.8,435.7 L1416.9,435.1 L1418.9,434.4 L1421.0,434.2 L1423.0,433.7 L1425.0,433.3 L1427.0,431.9 L1429.0,431.5 L1431.6,432.8 L1434.1,433.6 L1436.7,433.7 L1439.1,434.3 L1441.4,434.3 L1443.7,436.1 L1446.0,438.1 L1448.4,436.0 L1450.8,434.1 L1452.9,433.2 L1454.9,431.4 L1457.0,430.2 L1459.0,429.6 L1461.0,429.4 L1463.0,429.0 L1465.0,428.7 L1467.6,428.0 L1470.2,427.6 L1472.8,427.3 L1475.4,427.0 L1478.0,427.1 L1480.6,426.5 L1482.9,427.3 L1485.3,426.7 L1487.7,427.5 L1490.0,427.2" fill="none" stroke="#c81a22" stroke-width="2" stroke-linejoin="round"/><path d="M15.0,425.3 L18.8,415.0 L24.4,412.2 L28.1,404.7 L31.0,403.8 L36.6,409.4 L40.3,396.2 L45.0,398.1 L48.8,393.4 L52.5,389.7 L55.9,386.9 L60.0,394.4 L62.8,393.4 L65.6,392.5 L69.8,405.6 L74.0,406.6 L76.9,403.8 L79.7,404.7 L81.6,413.0 L83.4,431.9 L86.2,442.2 L89.0,448.8 L91.9,450.6 L93.8,443.0 L96.6,439.4 L98.4,446.9 L101.2,446.0 L104.0,452.5 L107.8,454.4 L110.6,447.8 L113.4,452.5 L117.2,450.6 L120.0,453.4 L123.8,452.5 L127.5,453.4 L131.2,450.6 L133.5,442.2 L137.8,441.2 L140.6,437.5 L143.4,434.7 L146.2,443.0 L149.0,439.4 L151.0,442.2 L153.8,440.3 L156.6,444.0 L161.2,446.9 L164.0,442.2 L168.8,442.2 L176.2,440.9 L181.9,443.0 L187.5,442.2 L193.0,445.0 L198.8,443.0 L206.2,442.2 L213.8,443.0 L221.2,441.2 L225.0,436.6 L227.8,428.0 L230.6,424.4 L232.5,428.0 L235.3,424.4 L239.0,425.3 L241.9,426.2 L246.0,421.6 L249.4,425.3 L255.0,428.0 L261.6,425.3 L263.4,424.4 L265.3,434.7 L268.0,437.5 L273.8,434.7 L277.5,432.8 L281.2,431.9 L285.0,435.6 L290.0,433.8 L297.5,434.7 L303.0,429.0 L308.8,430.0 L312.5,424.4 L315.3,418.8 L318.0,419.7 L320.0,415.0 L325.6,414.0 L329.4,403.8 L332.0,404.7 L336.0,398.0 L338.8,399.0 L342.5,388.8 L346.2,382.2 L349.6,381.2 L351.5,393.4 L354.7,377.5 L358.4,378.4 L362.0,377.5 L366.0,385.0 L368.8,378.4 L370.8,378.6 L372.0,359.7 L373.5,349.0 L376.0,354.0 L379.5,353.0 L381.0,334.0 L383.8,332.7 L385.7,320.5 L387.8,313.8 L389.7,292.0 L392.0,278.6 L393.8,245.0 L395.7,238.0 L397.3,251.6 L399.2,282.7 L400.5,251.6 L402.7,270.5 L404.6,266.5 L406.5,267.8 L407.6,303.0 L409.5,293.5 L411.4,296.0 L413.0,295.0 L414.6,304.0 L416.0,281.0 L418.0,295.0 L420.0,274.6 L422.0,261.0 L424.9,254.0 L426.0,240.0 L426.4,211.0 L428.0,199.0 L429.9,197.7 L431.8,192.3 L433.9,189.6 L436.0,173.4 L438.0,149.0 L440.0,139.6 L442.0,162.6 L443.4,197.7 L445.3,208.5 L446.9,216.6 L448.8,200.4 L450.0,181.5 L452.0,197.7 L455.0,173.4 L457.7,143.6 L459.6,141.0 L461.5,116.6 L462.6,146.4 L465.0,143.6 L466.9,139.6 L469.0,146.4 L471.2,165.3 L472.8,178.8 L475.0,159.9 L477.7,141.0 L479.9,136.9 L482.0,141.0 L483.9,136.9 L486.6,153.0 L489.3,135.5 L492.0,112.6 L494.7,116.6 L496.6,130.0 L498.2,155.8 L500.0,159.9 L502.0,189.6 L504.2,193.6 L505.5,207.0 L506.9,184.0 L508.5,168.0 L511.0,149.0 L513.0,153.0 L515.0,164.0 L517.7,142.3 L519.9,157.0 L521.8,168.0 L523.0,184.0 L524.5,203.0 L526.6,230.0 L528.6,244.0 L530.3,271.0 L531.9,268.4 L533.5,300.8 L534.9,269.7 L536.8,272.4 L539.5,294.0 L541.6,273.8 L544.3,271.0 L547.0,287.3 L549.7,299.5 L552.4,281.9 L555.9,265.7 L557.8,267.0 L560.5,286.0 L563.0,309.0 L566.0,298.0 L568.6,317.0 L571.4,291.4 L573.5,306.0 L576.0,294.0 L578.9,303.5 L581.6,309.0 L584.3,306.0 L587.0,315.7 L589.7,319.7 L593.0,329.0 L595.7,317.0 L598.4,287.3 L601.0,276.5 L603.8,267.0 L606.0,263.0 L607.8,282.0 L609.7,260.3 L611.9,248.0 L614.6,238.6 L616.8,230.5 L618.6,244.0 L620.5,233.0 L622.7,246.8 L624.9,225.0 L627.6,221.0 L630.3,225.0 L632.0,232.0 L634.0,222.4 L636.2,232.0 L638.9,219.7 L642.0,207.6 L643.8,236.0 L646.5,244.0 L649.7,245.4 L652.4,233.0 L654.6,234.6 L656.5,249.5 L658.4,271.0 L660.0,253.5 L661.9,261.6 L664.6,263.0 L666.8,271.0 L667.6,250.0 L668.6,227.0 L670.8,221.6 L673.0,194.6 L675.7,196.0 L677.6,192.0 L679.5,178.4 L681.6,173.0 L682.4,150.0 L684.3,164.9 L686.0,156.8 L687.8,133.8 L689.2,160.8 L691.0,162.0 L693.0,154.0 L695.0,156.8 L696.0,173.0 L697.3,155.4 L699.5,162.0 L701.4,150.0 L703.8,160.8 L706.0,143.0 L708.0,124.0 L710.0,143.0 L711.9,147.3 L714.0,148.6 L715.7,170.0 L717.8,183.8 L719.5,173.0 L721.6,186.5 L723.8,178.4 L726.0,204.0 L727.6,197.0 L729.0,182.4 L730.8,187.8 L732.4,189.0 L733.5,219.0 L734.6,232.4 L737.0,225.7 L739.0,232.4 L740.5,237.8 L742.0,229.7 L743.8,243.0 L746.0,235.0 L747.8,247.0 L750.5,244.6 L753.0,228.4 L756.0,225.7 L758.4,227.5 L760.3,245.7 L763.0,247.0 L764.9,252.4 L767.0,263.0 L769.2,275.4 L771.9,274.0 L773.8,267.3 L776.5,271.4 L779.2,274.0 L781.9,287.6 L784.6,313.0 L786.5,314.6 L788.6,302.4 L790.8,298.4 L792.7,301.0 L794.6,295.7 L795.7,305.0 L797.3,293.0 L799.5,278.0 L801.6,267.3 L803.5,264.6 L805.4,276.8 L807.6,275.4 L809.2,266.0 L810.8,272.7 L813.0,291.6 L814.6,289.0 L816.0,305.0 L818.4,298.4 L820.5,294.3 L821.9,302.4 L823.0,268.6 L825.0,272.7 L827.0,290.0 L829.0,293.0 L830.8,299.7 L831.9,278.0 L833.5,295.7 L836.0,297.0 L838.6,291.6 L840.5,283.5 L842.7,284.9 L844.9,276.8 L847.6,268.6 L849.5,266.0 L850.8,248.4 L853.0,251.0 L854.9,257.8 L857.6,257.8 L859.5,268.6 L861.6,274.0 L863.8,275.4 L865.7,284.9 L867.6,291.6 L869.7,289.0 L872.4,287.6 L874.6,282.0 L876.5,287.6 L878.4,293.0 L880.5,290.3 L881.9,299.7 L883.8,293.0 L886.0,301.0 L888.0,291.6 L890.0,306.5 L891.9,313.0 L893.5,325.4 L894.9,339.0 L896.2,352.4 L898.0,348.4 L900.0,340.0 L902.0,347.0 L904.3,344.3 L907.0,347.0 L909.7,345.7 L913.0,349.7 L915.0,340.0 L917.0,334.9 L918.9,344.3 L921.0,345.7 L923.0,336.0 L925.0,340.0 L926.8,347.6 L928.6,357.0 L930.3,370.5 L932.0,392.0 L934.9,397.6 L935.7,409.7 L936.8,396.0 L938.9,394.9 L940.3,399.0 L942.0,392.0 L944.3,393.5 L946.5,399.0 L948.6,404.3 L951.0,400.0 L953.8,393.5 L955.7,388.0 L957.8,390.8 L960.0,397.6 L962.7,393.5 L965.4,390.8 L967.3,388.0 L968.6,380.0 L971.4,382.7 L973.5,384.0 L975.0,392.0 L976.8,378.6 L978.9,377.3 L980.8,382.7 L983.5,380.0 L985.4,382.7 L987.6,377.3 L989.7,378.6 L991.6,374.6 L993.5,373.0 L995.7,376.0 L997.8,380.0 L999.7,390.8 L1001.6,392.0 L1003.8,388.0 L1006.0,390.8 L1007.8,397.6 L1010.5,396.0 L1013.0,396.0 L1016.0,399.0 L1017.8,403.0 L1020.0,400.0 L1021.9,388.0 L1023.0,384.0 L1024.9,394.9 L1026.8,397.6 L1029.5,399.0 L1031.4,403.0 L1034.9,401.6 L1038.9,400.0 L1041.6,401.6 L1044.3,399.0 L1046.5,396.0 L1049.0,399.0 L1052.4,400.8 L1056.5,400.0 L1059.0,399.0 L1061.9,400.8 L1064.6,401.6 L1067.3,394.9 L1070.0,392.0 L1072.7,393.5 L1075.4,392.7 L1077.6,389.5 L1079.5,388.0 L1081.4,390.8 L1082.7,401.6 L1083.8,408.4 L1084.9,419.0 L1087.0,413.8 L1088.9,416.0 L1090.8,412.4 L1093.0,415.0 L1095.0,417.8 L1097.0,414.3 L1099.7,415.0 L1104.0,411.9 L1108.0,410.5 L1112.0,411.4 L1116.0,409.0 L1118.9,407.0 L1121.0,413.0 L1125.7,412.4 L1129.7,411.9 L1133.8,413.0 L1137.8,414.0 L1141.9,411.9 L1146.0,409.0 L1148.0,401.0 L1150.0,391.6 L1152.7,387.6 L1155.4,386.0 L1157.3,376.8 L1160.0,374.0 L1162.7,375.4 L1165.4,371.4 L1167.6,374.0 L1169.7,370.8 L1172.4,372.7 L1175.0,375.4 L1177.8,382.0 L1180.5,382.7 L1182.4,380.8 L1183.8,367.3 L1186.5,364.6 L1189.0,364.6 L1191.4,370.0 L1193.0,372.7 L1195.0,370.0 L1197.3,372.0 L1199.5,370.8 L1201.4,375.4 L1204.0,379.5 L1206.0,386.0 L1208.0,390.0 L1209.7,386.0 L1211.4,367.3 L1213.5,362.0 L1215.7,353.8 L1217.6,349.7 L1219.5,348.4 L1221.0,353.8 L1223.0,351.0 L1225.7,355.0 L1227.6,351.0 L1229.7,349.7 L1231.9,352.4 L1234.0,348.4 L1236.5,350.3 L1238.4,345.7 L1240.0,337.6 L1242.7,336.8 L1245.4,338.4 L1247.6,336.8 L1249.0,345.7 L1250.8,352.4 L1253.5,351.9 L1255.4,347.0 L1256.8,339.5 L1259.5,340.3 L1261.0,349.7 L1262.7,341.6 L1264.9,338.4 L1267.0,343.0 L1268.9,348.4 L1270.8,349.7 L1273.0,355.0 L1275.0,351.0 L1277.8,353.8 L1280.5,351.9 L1283.0,353.8 L1286.0,352.4 L1288.6,348.4 L1291.4,347.6 L1294.0,351.0 L1296.0,350.3 L1297.6,357.8 L1299.5,353.8 L1302.0,356.5 L1304.9,359.0 L1306.8,361.9 L1308.9,355.0 L1311.0,352.4 L1313.0,339.0 L1314.9,329.5 L1317.0,328.0 L1319.0,330.8 L1321.9,329.5 L1324.6,330.3 L1326.8,326.8 L1329.0,330.3 L1331.9,329.5 L1334.6,328.0 L1336.5,322.7 L1338.0,329.5 L1340.8,331.4 L1343.5,332.0 L1346.0,330.8 L1348.0,334.9 L1350.8,335.7 L1354.9,334.9 L1358.9,336.0 L1361.6,333.5 L1363.5,330.8 L1365.7,334.0 L1368.4,334.0 L1371.0,334.9 L1372.4,341.6 L1373.0,352.4 L1376.0,353.0 L1377.8,349.7 L1379.7,352.4 L1381.9,352.4 L1383.5,345.7 L1384.6,343.0 L1386.0,348.4 L1387.3,353.0 L1390.0,352.4 L1392.7,351.9 L1395.4,353.0 L1398.0,354.6 L1399.7,348.4 L1402.0,347.0 L1404.9,345.7 L1406.8,343.0 L1408.9,344.9 L1411.6,347.6 L1413.8,346.5 L1415.7,341.6 L1418.4,339.0 L1421.0,338.4 L1423.8,337.6 L1426.5,336.8 L1428.4,343.8 L1431.0,343.0 L1433.0,336.0 L1435.4,333.5 L1437.3,328.0 L1439.0,322.7 L1440.8,311.9 L1441.9,301.0 L1443.5,294.3 L1445.4,297.0 L1447.3,294.3 L1449.5,291.6 L1451.6,293.0 L1453.8,289.0 L1456.0,284.9 L1458.0,278.0 L1460.0,275.4 L1462.4,278.0 L1463.8,284.9 L1465.7,278.0 L1467.8,275.4 L1469.7,276.8 L1471.6,272.7 L1473.8,274.0 L1476.0,272.0 L1477.8,274.0 L1479.7,271.4 L1481.4,260.5 L1483.0,255.0 L1484.0,244.3 L1485.0,233.5 L1486.0,232.0" fill="none" stroke="#ececec" stroke-width="1.7" stroke-linejoin="round"/><circle cx="1490.4" cy="427.3" r="2.6" fill="#ee1c1c"/><rect x="1488.2" y="446.2" width="4" height="4.2" fill="#e9c21f"/><rect x="1488.2" y="441.4" width="4" height="5.4" fill="#2fe02f"/><line x1="1523.3" y1="75" x2="1523.3" y2="501.7" stroke="#f0f0f0" stroke-width="1.6"/><line x1="14.6" y1="501" x2="1524" y2="501" stroke="#f0f0f0" stroke-width="1.7"/><g stroke="#e6e6e6" stroke-width="1.4"><line x1="43.0" y1="501" x2="43.0" y2="505.2"/><line x1="72.8" y1="501" x2="72.8" y2="505.2"/><line x1="104.6" y1="501" x2="104.6" y2="505.2"/><line x1="135.4" y1="501" x2="135.4" y2="505.2"/><line x1="167.3" y1="501" x2="167.3" y2="505.2"/><line x1="198.1" y1="501" x2="198.1" y2="505.2"/><line x1="229.9" y1="501" x2="229.9" y2="505.2"/><line x1="261.8" y1="501" x2="261.8" y2="505.2"/><line x1="292.6" y1="501" x2="292.6" y2="505.2"/><line x1="324.5" y1="501" x2="324.5" y2="505.2"/><line x1="355.3" y1="501" x2="355.3" y2="505.2"/><line x1="387.1" y1="501" x2="387.1" y2="505.2"/><line x1="419.0" y1="501" x2="419.0" y2="505.2"/><line x1="447.8" y1="501" x2="447.8" y2="505.2"/><line x1="479.6" y1="501" x2="479.6" y2="505.2"/><line x1="510.4" y1="501" x2="510.4" y2="505.2"/><line x1="542.3" y1="501" x2="542.3" y2="505.2"/><line x1="573.1" y1="501" x2="573.1" y2="505.2"/><line x1="604.9" y1="501" x2="604.9" y2="505.2"/><line x1="636.8" y1="501" x2="636.8" y2="505.2"/><line x1="667.6" y1="501" x2="667.6" y2="505.2"/><line x1="699.5" y1="501" x2="699.5" y2="505.2"/><line x1="730.3" y1="501" x2="730.3" y2="505.2"/><line x1="762.1" y1="501" x2="762.1" y2="505.2"/><line x1="794.0" y1="501" x2="794.0" y2="505.2"/><line x1="822.8" y1="501" x2="822.8" y2="505.2"/><line x1="854.6" y1="501" x2="854.6" y2="505.2"/><line x1="885.4" y1="501" x2="885.4" y2="505.2"/><line x1="917.3" y1="501" x2="917.3" y2="505.2"/><line x1="948.1" y1="501" x2="948.1" y2="505.2"/><line x1="979.9" y1="501" x2="979.9" y2="505.2"/><line x1="1011.8" y1="501" x2="1011.8" y2="505.2"/><line x1="1042.6" y1="501" x2="1042.6" y2="505.2"/><line x1="1074.5" y1="501" x2="1074.5" y2="505.2"/><line x1="1105.3" y1="501" x2="1105.3" y2="505.2"/><line x1="1137.1" y1="501" x2="1137.1" y2="505.2"/><line x1="1169.0" y1="501" x2="1169.0" y2="505.2"/><line x1="1197.8" y1="501" x2="1197.8" y2="505.2"/><line x1="1229.6" y1="501" x2="1229.6" y2="505.2"/><line x1="1260.4" y1="501" x2="1260.4" y2="505.2"/><line x1="1292.3" y1="501" x2="1292.3" y2="505.2"/><line x1="1323.1" y1="501" x2="1323.1" y2="505.2"/><line x1="1354.9" y1="501" x2="1354.9" y2="505.2"/><line x1="1386.8" y1="501" x2="1386.8" y2="505.2"/><line x1="1417.6" y1="501" x2="1417.6" y2="505.2"/><line x1="1449.5" y1="501" x2="1449.5" y2="505.2"/><line x1="1480.3" y1="501" x2="1480.3" y2="505.2"/><line x1="1506.5" y1="501" x2="1506.5" y2="505.2"/></g><line x1="387.135" y1="520" x2="387.135" y2="540" stroke="#8a8a8a" stroke-width="1.3"/><line x1="762.1360000000001" y1="520" x2="762.1360000000001" y2="540" stroke="#8a8a8a" stroke-width="1.3"/><line x1="1137.137" y1="520" x2="1137.137" y2="540" stroke="#8a8a8a" stroke-width="1.3"/><line x1="1506.5" y1="520" x2="1506.5" y2="540" stroke="#8a8a8a" stroke-width="1.3"/><polygon points="1524,86.10000000000001 1533,88.7 1524,91.3" fill="#f0f0f0"/><polygon points="1524,170.20000000000002 1533,172.8 1524,175.4" fill="#f0f0f0"/><polygon points="1524,254.20000000000002 1533,256.8 1524,259.40000000000003" fill="#f0f0f0"/><polygon points="1524,337.2 1533,339.8 1524,342.40000000000003" fill="#f0f0f0"/><polygon points="1524,421.6 1527.5,423.6 1524,425.6" fill="#f0f0f0"/><line x1="1524" y1="130.6" x2="1528.3" y2="130.6" stroke="#e6e6e6" stroke-width="1.4"/><line x1="1524" y1="214.3" x2="1528.3" y2="214.3" stroke="#e6e6e6" stroke-width="1.4"/><line x1="1524" y1="298" x2="1528.3" y2="298" stroke="#e6e6e6" stroke-width="1.4"/><line x1="1524" y1="381.7" x2="1528.3" y2="381.7" stroke="#e6e6e6" stroke-width="1.4"/><line x1="1524" y1="465.4" x2="1528.3" y2="465.4" stroke="#e6e6e6" stroke-width="1.4"/><polygon points="1525.3,233.7 1531,224.3 1596.3,224.3 1596.3,243.2 1531,243.2" fill="#f4f4f4"/><polygon points="1526,444.3 1531,435 1596.6,435 1596.6,453 1531,453" fill="#2fd62f"/><polygon points="1526,425.3 1531,417 1596.6,417 1596.6,433.9 1531,433.9" fill="#fb0b0b"/><polygon points="1526,447.5 1531,437.8 1596.6,437.8 1596.6,457.2 1531,457.2" fill="#e9b313"/><g stroke="#747474" stroke-width="1.4"><line x1="650.6" y1="87" x2="662.4" y2="87"/><line x1="656.5" y1="81" x2="656.5" y2="93"/></g><g stroke="#7c7c7c" stroke-width="1.3" fill="none"><line x1="727.5" y1="90.6" x2="734.4" y2="83.4"/><line x1="726.5" y1="92.2" x2="737" y2="92.2"/></g><g fill="#6c6c6c"><rect x="821.6" y="82.3" width="10.2" height="2.3"/><rect x="821.6" y="86" width="10.2" height="2.3"/><rect x="821.6" y="89.7" width="10.2" height="2.3"/></g><g stroke="#6e6e6e" stroke-width="1.4" fill="none"><circle cx="897" cy="85.4" r="3.8"/><line x1="899.8" y1="88.4" x2="904.4" y2="93"/></g><line x1="1207.9" y1="131.9" x2="1213.1" y2="116.7" stroke="#d8d8d8" stroke-width="1.35"/><line x1="1147.0" y1="150.3" x2="1152.1" y2="135.1" stroke="#d8d8d8" stroke-width="1.35"/><line x1="1138.4" y1="168.8" x2="1143.7" y2="153.6" stroke="#d8d8d8" stroke-width="1.35"/><line x1="1139.6" y1="187.2" x2="1144.7" y2="172.0" stroke="#d8d8d8" stroke-width="1.35"/><rect x="1043.2" y="114.9" width="13.8" height="13.3" fill="#ffffff"/><rect x="1043.2" y="133.4" width="13.8" height="13.3" fill="#f2b90f"/><rect x="1043.2" y="151.9" width="13.8" height="13.3" fill="#1fe01f"/><rect x="1043.2" y="170.4" width="13.8" height="13.3" fill="#f51212"/></svg>
<div id="m1" class="t mt" style="left:672.13px;transform-origin:0 0;transform:scaleX(1.0313);">Track</div>
<div id="m2" class="t mt" style="left:747.48px;transform-origin:0 0;transform:scaleX(0.9741);">Annotate</div>
<div id="m3" class="t mt" style="left:842.24px;transform-origin:0 0;transform:scaleX(0.9478);">News</div>
<div id="m4" class="t mt" style="left:914.70px;transform-origin:0 0;transform:scaleX(0.9619);">Zoom</div>
<div id="l0w0" class="t lg" style="left:1061.47px;transform-origin:0 0;transform:scaleX(0.8052);top:115.7px">XBTUSD</div><div id="l0w1" class="t lg" style="left:1119.79px;transform-origin:0 0;transform:scaleX(0.8177);top:115.7px">BGN</div><div id="l0w2" class="t lg" style="left:1153.20px;transform-origin:0 0;transform:scaleX(0.9066);top:115.7px">Curncy</div><div id="l0w3" class="t lg" style="left:1219.88px;transform-origin:0 0;transform:scaleX(0.7739);top:115.7px">FARBAST</div><div id="l0w4" class="t lg" style="left:1283.64px;transform-origin:0 0;transform:scaleX(0.9991);top:115.7px">Index</div><div id="l0w5" class="t lg" style="left:1328.66px;transform-origin:0 0;transform:scaleX(0.9320);top:115.7px">on</div><div id="l0w6" class="t lg" style="left:1350.95px;transform-origin:0 0;transform:scaleX(1.0569);top:115.7px">12/6/23</div>
<div id="v0" class="t lg" style="left:1414.56px;transform-origin:0 0;transform:scaleX(0.9522);top:115.7px">327.5711</div>
<div id="l1w0" class="t lg" style="left:1061.53px;transform-origin:0 0;transform:scaleX(0.7834);top:134.1px">XAU</div><div id="l1w1" class="t lg" style="left:1093.17px;transform-origin:0 0;transform:scaleX(0.9042);top:134.1px">Curncy</div><div id="l1w2" class="t lg" style="left:1159.21px;transform-origin:0 0;transform:scaleX(0.7947);top:134.1px">FARBAST</div><div id="l1w3" class="t lg" style="left:1223.66px;transform-origin:0 0;transform:scaleX(0.9847);top:134.1px">Index</div><div id="l1w4" class="t lg" style="left:1268.48px;transform-origin:0 0;transform:scaleX(0.9412);top:134.1px">on</div><div id="l1w5" class="t lg" style="left:1290.31px;transform-origin:0 0;transform:scaleX(1.0368);top:134.1px">12/10/23</div>
<div id="v1" class="t lg" style="left:1414.67px;transform-origin:0 0;transform:scaleX(0.9226);top:134.1px">72.0101</div>
<div id="l2w0" class="t lg" style="left:1061.36px;transform-origin:0 0;transform:scaleX(0.8136);top:152.6px">SPX</div><div id="l2w1" class="t lg" style="left:1092.35px;transform-origin:0 0;transform:scaleX(0.9974);top:152.6px">Index</div><div id="l2w2" class="t lg" style="left:1150.84px;transform-origin:0 0;transform:scaleX(0.7938);top:152.6px">FARBAST</div><div id="l2w3" class="t lg" style="left:1215.41px;transform-origin:0 0;transform:scaleX(0.9828);top:152.6px">Index</div><div id="l2w4" class="t lg" style="left:1260.59px;transform-origin:0 0;transform:scaleX(0.9123);top:152.6px">on</div><div id="l2w5" class="t lg" style="left:1282.37px;transform-origin:0 0;transform:scaleX(1.0367);top:152.6px">12/10/23</div>
<div id="v2" class="t lg" style="left:1414.67px;transform-origin:0 0;transform:scaleX(0.9208);top:152.6px">75.3246</div>
<div id="l3w0" class="t lg" style="left:1061.65px;transform-origin:0 0;transform:scaleX(0.7949);top:171.0px">NDX</div><div id="l3w1" class="t lg" style="left:1093.27px;transform-origin:0 0;transform:scaleX(0.9918);top:171.0px">Index</div><div id="l3w2" class="t lg" style="left:1151.84px;transform-origin:0 0;transform:scaleX(0.7968);top:171.0px">FARBAST</div><div id="l3w3" class="t lg" style="left:1216.17px;transform-origin:0 0;transform:scaleX(0.9846);top:171.0px">Index</div><div id="l3w4" class="t lg" style="left:1261.17px;transform-origin:0 0;transform:scaleX(0.9096);top:171.0px">on</div><div id="l3w5" class="t lg" style="left:1283.02px;transform-origin:0 0;transform:scaleX(1.0367);top:171.0px">12/10/23</div>
<div id="v3" class="t lg" style="left:1414.80px;transform-origin:0 0;transform:scaleX(0.9231);top:171.0px">95.9877</div>
<div id="y0" class="t ax" style="left:1534.38px;transform-origin:0 0;transform:scaleX(0.9250);top:81.1px">500</div>
<div id="y1" class="t ax" style="left:1534.57px;transform-origin:0 0;transform:scaleX(0.9024);top:165.2px">400</div>
<div id="y2" class="t ax" style="left:1534.58px;transform-origin:0 0;transform:scaleX(0.9171);top:249.2px">300</div>
<div id="y3" class="t ax" style="left:1533.99px;transform-origin:0 0;transform:scaleX(0.9162);top:332.2px">200</div>
<div id="f0" class="t ax" style="left:1532.92px;transform-origin:0 0;transform:scaleX(0.9234);top:226px;color:#222;">327.5711</div>
<div id="f1" class="t ax" style="left:1533.26px;transform-origin:0 0;transform:scaleX(0.9001);top:417.6px;color:#fff;">95.9877</div>
<div id="f2" class="t ax" style="left:1532.49px;transform-origin:0 0;transform:scaleX(0.9053);top:439.7px;color:#2a2000;">72.0101</div>
<div id="x0" class="t ax" style="left:74.50px;transform-origin:0 0;transform:scaleX(0.9061);top:505px">Mar</div>
<div id="x1" class="t ax" style="left:170.30px;transform-origin:0 0;transform:scaleX(0.9465);top:505px">Jun</div>
<div id="x2" class="t ax" style="left:264.19px;transform-origin:0 0;transform:scaleX(0.8775);top:505px">Sep</div>
<div id="x3" class="t ax" style="left:357.41px;transform-origin:0 0;transform:scaleX(0.9432);top:505px">Dec</div>
<div id="x4" class="t ax" style="left:449.51px;transform-origin:0 0;transform:scaleX(0.9061);top:505px">Mar</div>
<div id="x5" class="t ax" style="left:545.35px;transform-origin:0 0;transform:scaleX(0.9465);top:505px">Jun</div>
<div id="x6" class="t ax" style="left:639.19px;transform-origin:0 0;transform:scaleX(0.8775);top:505px">Sep</div>
<div id="x7" class="t ax" style="left:732.46px;transform-origin:0 0;transform:scaleX(0.9432);top:505px">Dec</div>
<div id="x8" class="t ax" style="left:824.51px;transform-origin:0 0;transform:scaleX(0.9061);top:505px">Mar</div>
<div id="x9" class="t ax" style="left:920.35px;transform-origin:0 0;transform:scaleX(0.9465);top:505px">Jun</div>
<div id="x10" class="t ax" style="left:1014.24px;transform-origin:0 0;transform:scaleX(0.8775);top:505px">Sep</div>
<div id="x11" class="t ax" style="left:1107.46px;transform-origin:0 0;transform:scaleX(0.9432);top:505px">Dec</div>
<div id="x12" class="t ax" style="left:1199.52px;transform-origin:0 0;transform:scaleX(0.9061);top:505px">Mar</div>
<div id="x13" class="t ax" style="left:1295.35px;transform-origin:0 0;transform:scaleX(0.9465);top:505px">Jun</div>
<div id="x14" class="t ax" style="left:1389.25px;transform-origin:0 0;transform:scaleX(0.8775);top:505px">Sep</div>
<div id="x15" class="t ax" style="left:1479.07px;transform-origin:0 0;transform:scaleX(0.9430);top:505px">Dec</div>
<div id="yr0" class="t ax" style="left:184.59px;transform-origin:0 0;transform:scaleX(0.8736);top:523px">2020</div>
<div id="yr1" class="t ax" style="left:559.57px;transform-origin:0 0;transform:scaleX(0.8748);top:523px">2021</div>
<div id="yr2" class="t ax" style="left:934.58px;transform-origin:0 0;transform:scaleX(0.8711);top:523px">2022</div>
<div id="yr3" class="t ax" style="left:1307.04px;transform-origin:0 0;transform:scaleX(0.8680);top:523px">2023</div>
</body></html>
